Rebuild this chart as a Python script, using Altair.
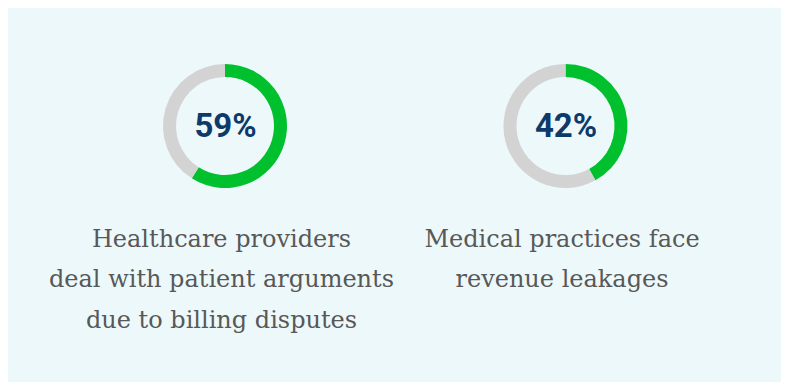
import altair as alt
import pandas as pd

# ---- data ----
percent_values = [59, 42]
percent_labels = ["59%", "42%"]
captions = [
    "Healthcare providers\ndeal with patient arguments\ndue to billing disputes",
    "Medical practices face\nrevenue leakages",
]
segments = ["share", "rest"]

rows = []
for i, p in enumerate(percent_values):
    rows.append({"donut": i, "segment": "share", "order": 0, "value": p})
    rows.append({"donut": i, "segment": "rest", "order": 1, "value": 100 - p})
df = pd.DataFrame(rows)

# ---- style / layout ----
BG = "#EDF8FB"
GREEN = "#00C12D"
GRAY = "#D3D3D3"
NAVY = "#0D3A6B"
TEXT = "#585858"
centers_x = [217, 557.5]
center_y = 118
caption_x = [213.5, 554]
caption_y = 238.5

layers = []
for i in range(len(percent_values)):
    arc = (
        alt.Chart(df)
        .transform_filter(alt.datum.donut == i)
        .mark_arc(radius=62, innerRadius=49)
        .encode(
            theta=alt.Theta("value:Q", stack=True, scale=alt.Scale(domain=[0, 100])),
            color=alt.Color(
                "segment:N",
                scale=alt.Scale(domain=segments, range=[GREEN, GRAY]),
                legend=None,
            ),
            order=alt.Order("order:Q"),
            x=alt.value(centers_x[i]),
            y=alt.value(center_y),
        )
    )
    pct = (
        alt.Chart(pd.DataFrame({"t": [percent_labels[i]]}))
        .mark_text(
            font="Roboto", fontWeight="bold", fontSize=33, color=NAVY,
            align="center", baseline="middle",
        )
        .encode(text="t:N", x=alt.value(centers_x[i] + 0.5), y=alt.value(center_y + 1))
    )
    cap = (
        alt.Chart(pd.DataFrame({"t": [captions[i]]}))
        .mark_text(
            font="DejaVu Serif", fontSize=24, color=TEXT,
            align="center", baseline="alphabetic", lineBreak="\n", lineHeight=40.5,
        )
        .encode(text="t:N", x=alt.value(caption_x[i]), y=alt.value(caption_y))
    )
    layers += [arc, pct, cap]

chart = (
    alt.layer(*layers)
    .properties(width=773, height=374, background=BG, padding=0)
    .configure_view(stroke=None)
)

chart.save("out.html", embed_options={"renderer": "svg", "actions": False})
